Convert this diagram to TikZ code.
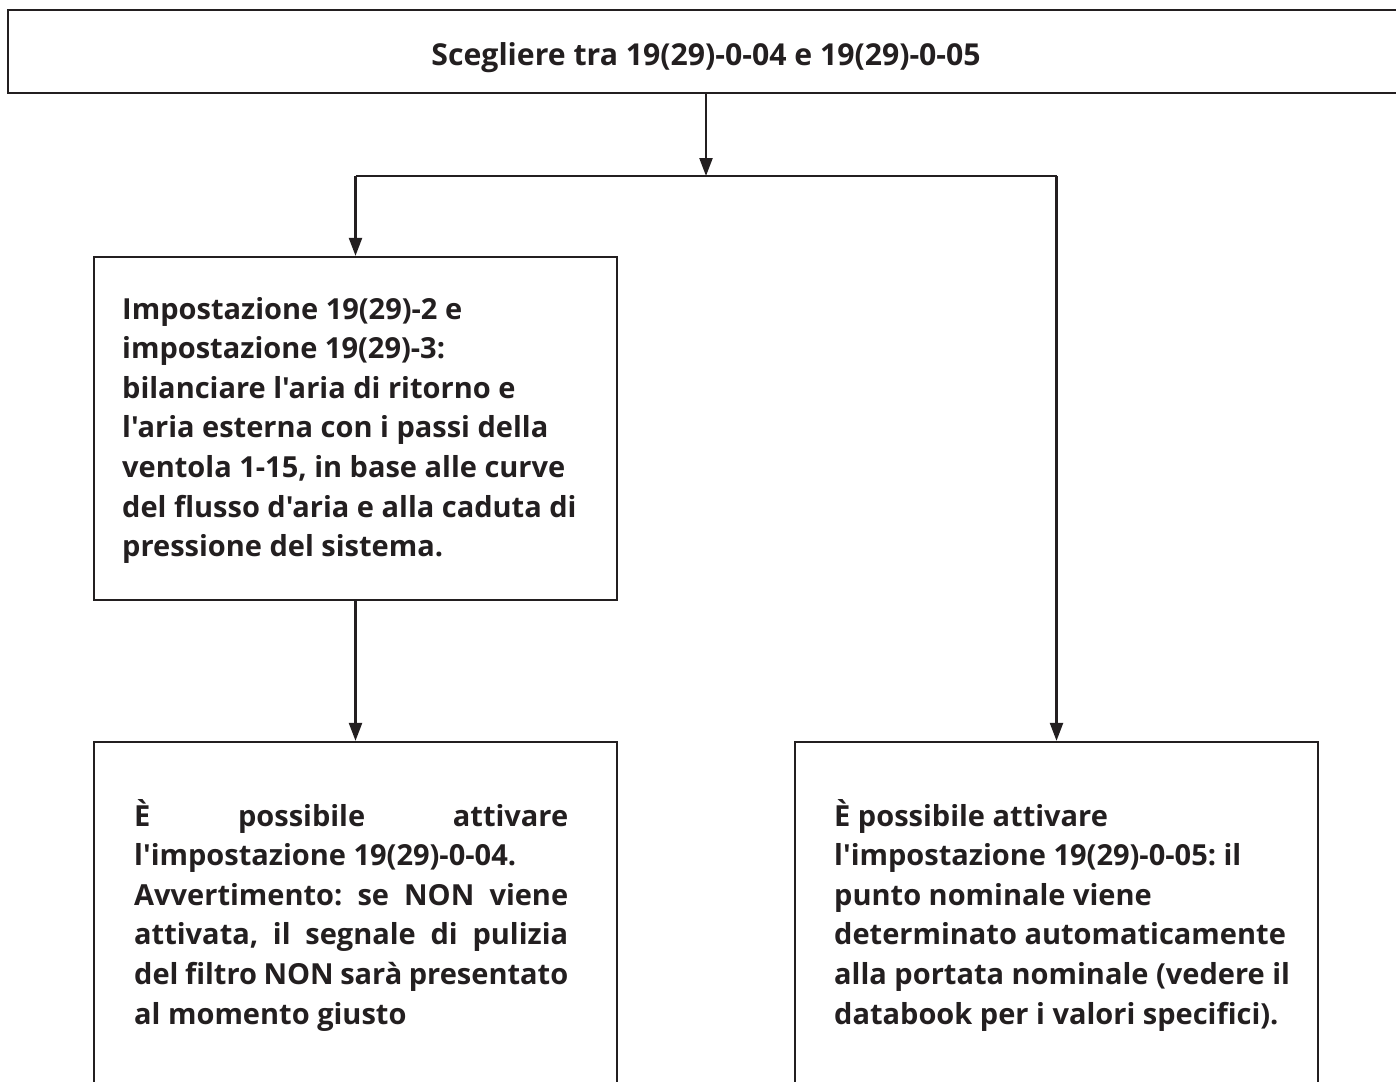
\documentclass[tikz,border=0pt]{standalone}
\usepackage{fontspec}
\setmainfont{Open Sans}[Ligatures=TeXOff]
\usetikzlibrary{arrows.meta}
\definecolor{ink}{HTML}{231F20}
\frenchspacing
\begin{document}
\begin{tikzpicture}[x=1pt,y=-1pt,
  box/.style={draw=ink, line width=2.3pt, rectangle, inner sep=0pt},
  conn/.style={draw=ink, line width=2.3pt},
  arr/.style={draw=ink, line width=2.3pt, -{Triangle[length=18pt,width=13pt]}},
  txt/.style={inner sep=0pt, text=ink, font=\fontsize{29}{39.6}\selectfont\bfseries\frenchspacing}]
\clip (0,0) rectangle (1396,1081);
\fill[white] (0,0) rectangle (1396,1081);
% boxes
\node[box, minimum width=1394pt, minimum height=83pt] (top) at (705,51.5) {};
\node[box, minimum width=523pt, minimum height=343pt] (mid) at (355.5,428.5) {};
\node[box, minimum width=523pt, minimum height=400pt] (bl) at (355.5,942) {};
\node[box, minimum width=523pt, minimum height=400pt] (br) at (1056.5,942) {};
% texts
\node[txt, anchor=base, font=\fontsize{30.2}{40}\selectfont\bfseries] (ttop) at (706,65) {Scegliere tra 19(29)-0-04 e 19(29)-0-05};
\node[txt, anchor=base west] (tmid) at (122,319) {\parbox[t]{480pt}{\raggedright
Impostazione 19(29)-2 e\\
impostazione 19(29)-3:\\
bilanciare l'aria di ritorno e\\
l'aria esterna con i passi della\\
ventola 1-15, in base alle curve\\
del flusso d'aria e alla caduta di\\
pressione del sistema.}};
\node[txt, anchor=base west] (tbl) at (134,826) {\parbox[t]{434pt}{%
\makebox[434pt][s]{È possibile attivare}\\
l'impostazione 19(29)-0-04.\\
\makebox[434pt][s]{Avvertimento: se NON viene}\\
\makebox[434pt][s]{attivata, il segnale di pulizia}\\
\makebox[434pt][s]{del filtro NON sarà presentato}\\
al momento giusto}};
\node[txt, anchor=base west] (tbr) at (834,826) {\parbox[t]{480pt}{\raggedright
È possibile attivare\\
l'impostazione 19(29)-0-05: il\\
punto nominale viene\\
determinato automaticamente\\
alla portata nominale (vedere il\\
databook per i valori specifici).}};
% connectors
\coordinate (j) at (706,176);
\coordinate (jl) at (355.5,176);
\coordinate (jr) at (1056.5,176);
\draw[arr] (top.south -| j) -- (j);
\draw[conn] (jl) -- (jr);
\draw[arr] (jl) -- (mid.north);
\draw[arr] (jr) -- (br.north);
\draw[arr] (mid.south) -- (bl.north);
\end{tikzpicture}
\end{document}
